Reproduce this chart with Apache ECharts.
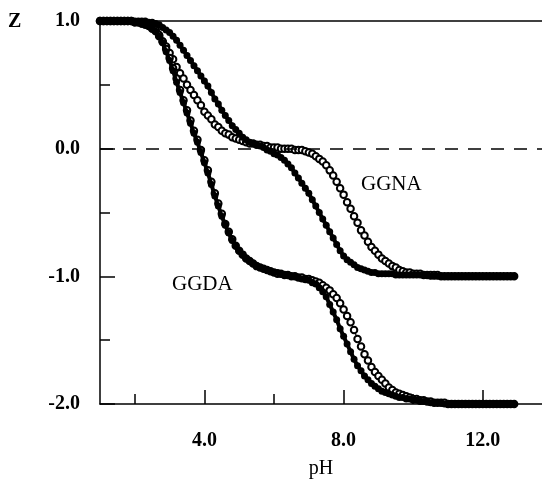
<!DOCTYPE html>
<html>
<head>
<meta charset="utf-8">
<script src="https://cdn.jsdelivr.net/npm/echarts@6/dist/echarts.min.js"></script>
<style>
html, body { margin: 0; padding: 0; background: #fff; }
#chart { width: 542px; height: 482px; }
</style>
</head>
<body>
<div id="chart"></div>
<script>
var ph = [
  1.0, 1.1, 1.2, 1.3, 1.4, 1.5, 1.6, 1.7, 1.8, 1.9,
  2.0, 2.1, 2.2, 2.3, 2.4, 2.5, 2.6, 2.7, 2.8, 2.9,
  3.0, 3.1, 3.2, 3.3, 3.4, 3.5, 3.6, 3.7, 3.8, 3.9,
  4.0, 4.1, 4.2, 4.3, 4.4, 4.5, 4.6, 4.7, 4.8, 4.9,
  5.0, 5.1, 5.2, 5.3, 5.4, 5.5, 5.6, 5.7, 5.8, 5.9,
  6.0, 6.1, 6.2, 6.3, 6.4, 6.5, 6.6, 6.7, 6.8, 6.9,
  7.0, 7.1, 7.2, 7.3, 7.4, 7.5, 7.6, 7.7, 7.8, 7.9,
  8.0, 8.1, 8.2, 8.3, 8.4, 8.5, 8.6, 8.7, 8.8, 8.9,
  9.0, 9.1, 9.2, 9.3, 9.4, 9.5, 9.6, 9.7, 9.8, 9.9,
  10.0, 10.1, 10.2, 10.3, 10.4, 10.5, 10.6, 10.7, 10.8, 10.9,
  11.0, 11.1, 11.2, 11.3, 11.4, 11.5, 11.6, 11.7, 11.8, 11.9,
  12.0, 12.1, 12.2, 12.3, 12.4, 12.5, 12.6, 12.7, 12.8, 12.9
];

// GGNA, filled circles
var ggnaFilled = [
  1, 1, 1, 1, 1, 1, 1, 1, 1, 1,
  1, 1, 1, 1, 0.99, 0.99, 0.98, 0.97, 0.95, 0.93,
  0.91, 0.88, 0.85, 0.81, 0.77, 0.73, 0.69, 0.65, 0.61, 0.57,
  0.53, 0.49, 0.44, 0.39, 0.35, 0.30, 0.26, 0.22, 0.18, 0.15,
  0.12, 0.09, 0.07, 0.05, 0.04, 0.03, 0.02, 0.01, -0.01, -0.02,
  -0.04, -0.05, -0.07, -0.09, -0.12, -0.15, -0.19, -0.23, -0.27, -0.31,
  -0.35, -0.40, -0.45, -0.50, -0.55, -0.60, -0.65, -0.70, -0.75, -0.80,
  -0.84, -0.87, -0.89, -0.91, -0.93, -0.94, -0.95, -0.96, -0.97, -0.97,
  -0.98, -0.98, -0.98, -0.98, -0.98, -0.99, -0.99, -0.99, -0.99, -0.99,
  -0.99, -0.99, -0.99, -0.99, -0.99, -1, -1, -1, -1, -1,
  -1, -1, -1, -1, -1, -1, -1, -1, -1, -1,
  -1, -1, -1, -1, -1, -1, -1, -1, -1, -1
];

// GGNA, open circles
var ggnaOpen = [
  1, 1, 1, 1, 1, 1, 1, 1, 1, 1,
  0.99, 0.99, 0.98, 0.97, 0.96, 0.94, 0.92, 0.88, 0.84, 0.80,
  0.75, 0.70, 0.64, 0.59, 0.55, 0.50, 0.46, 0.42, 0.38, 0.34,
  0.29, 0.26, 0.23, 0.19, 0.17, 0.14, 0.12, 0.11, 0.09, 0.08,
  0.07, 0.06, 0.05, 0.04, 0.04, 0.03, 0.03, 0.02, 0.02, 0.01,
  0.01, 0.01, 0, 0, 0, 0, -0.01, -0.01, -0.01, -0.02,
  -0.03, -0.04, -0.06, -0.08, -0.10, -0.13, -0.17, -0.21, -0.26, -0.31,
  -0.36, -0.42, -0.47, -0.53, -0.58, -0.64, -0.68, -0.73, -0.77, -0.80,
  -0.83, -0.86, -0.88, -0.90, -0.92, -0.93, -0.95, -0.96, -0.97, -0.97,
  -0.98, -0.98, -0.98, -0.99, -0.99, -0.99, -0.99, -0.99, -1, -1,
  -1, -1, -1, -1, -1, -1, -1, -1, -1, -1,
  -1, -1, -1, -1, -1, -1, -1, -1, -1, -1
];

// GGDA, filled circles
var ggdaFilled = [
  1, 1, 1, 1, 1, 1, 1, 1, 1, 1,
  0.99, 0.99, 0.98, 0.98, 0.96, 0.95, 0.92, 0.88, 0.83, 0.76,
  0.69, 0.61, 0.52, 0.44, 0.36, 0.28, 0.20, 0.12, 0.05, -0.03,
  -0.11, -0.19, -0.28, -0.37, -0.45, -0.53, -0.60, -0.66, -0.72, -0.76,
  -0.80, -0.83, -0.86, -0.88, -0.90, -0.92, -0.93, -0.94, -0.95, -0.96,
  -0.97, -0.97, -0.98, -0.99, -0.99, -1.00, -1.00, -1.01, -1.02, -1.02,
  -1.03, -1.05, -1.06, -1.09, -1.12, -1.16, -1.22, -1.28, -1.34, -1.41,
  -1.47, -1.53, -1.59, -1.65, -1.70, -1.74, -1.78, -1.81, -1.84, -1.86,
  -1.88, -1.90, -1.91, -1.92, -1.93, -1.94, -1.95, -1.95, -1.96, -1.96,
  -1.97, -1.97, -1.98, -1.98, -1.98, -1.99, -1.99, -1.99, -1.99, -2,
  -2, -2, -2, -2, -2, -2, -2, -2, -2, -2,
  -2, -2, -2, -2, -2, -2, -2, -2, -2, -2
];

// GGDA, open circles
var ggdaOpen = [
  1, 1, 1, 1, 1, 1, 1, 1, 1, 1,
  0.99, 0.99, 0.98, 0.98, 0.97, 0.95, 0.93, 0.89, 0.84, 0.78,
  0.71, 0.63, 0.55, 0.46, 0.38, 0.30, 0.22, 0.14, 0.07, -0.01,
  -0.09, -0.17, -0.26, -0.35, -0.43, -0.51, -0.59, -0.65, -0.71, -0.76,
  -0.80, -0.83, -0.86, -0.88, -0.90, -0.92, -0.93, -0.94, -0.95, -0.96,
  -0.97, -0.98, -0.98, -0.99, -0.99, -1.00, -1.00, -1.01, -1.01, -1.02,
  -1.02, -1.03, -1.04, -1.05, -1.07, -1.09, -1.11, -1.14, -1.17, -1.21,
  -1.26, -1.31, -1.36, -1.42, -1.49, -1.55, -1.61, -1.66, -1.71, -1.75,
  -1.78, -1.81, -1.84, -1.87, -1.89, -1.91, -1.92, -1.93, -1.94, -1.95,
  -1.96, -1.96, -1.97, -1.97, -1.98, -1.98, -1.99, -1.99, -1.99, -1.99,
  -2, -2, -2, -2, -2, -2, -2, -2, -2, -2,
  -2, -2, -2, -2, -2, -2, -2, -2, -2, -2
];

var majorTicksX = [4, 8, 12];
var minorTicksX = [2, 6, 10];

function pairs(ys) {
  return ph.map(function (x, i) { return [x, ys[i]]; });
}

var font = "'Liberation Serif', 'Times New Roman', serif";

function filledSeries(name, ys) {
  return {
    name: name,
    type: "line",
    data: pairs(ys),
    clip: false,
    showAllSymbol: true,
    symbol: "circle",
    symbolSize: 7,
    itemStyle: { color: "#000" },
    lineStyle: { color: "#000", width: 4 },
    z: 4
  };
}

function openSeries(name, ys) {
  return {
    name: name,
    type: "line",
    data: pairs(ys),
    clip: false,
    showAllSymbol: true,
    symbol: "emptyCircle",
    symbolSize: 6.5,
    itemStyle: { color: "#000", borderWidth: 1.6 },
    lineStyle: { color: "#000", width: 1.2 },
    z: 3
  };
}

var myChart = echarts.init(document.getElementById("chart"));
var option = {
  backgroundColor: "#fff",
  animation: false,
  grid: { left: 100, right: 0, top: 21, bottom: 78, outerBoundsMode: "none" },
  xAxis: [
    {
      type: "value",
      position: "bottom",
      min: 1,
      max: 13.7,
      name: "pH",
      nameLocation: "middle",
      nameGap: 55,
      nameTextStyle: { fontFamily: font, fontSize: 20, color: "#000" },
      axisLine: { onZero: false, lineStyle: { color: "#000", width: 1.5 } },
      axisTick: { inside: true, length: 14, customValues: majorTicksX, lineStyle: { color: "#000", width: 1.5 } },
      axisLabel: {
        customValues: majorTicksX,
        margin: 27,
        fontFamily: font,
        fontSize: 20,
        fontWeight: "bold",
        color: "#000",
        formatter: function (v) { return v.toFixed(1); }
      },
      splitLine: { show: false }
    },
    {
      type: "value",
      position: "bottom",
      min: 1,
      max: 13.7,
      axisLine: { show: false, onZero: false },
      axisTick: { inside: true, length: 10, customValues: minorTicksX, lineStyle: { color: "#000", width: 1.5 } },
      axisLabel: { show: false },
      splitLine: { show: false }
    }
  ],
  yAxis: {
    type: "value",
    min: -2,
    max: 1,
    interval: 1,
    axisLine: { show: true, onZero: false, lineStyle: { color: "#000", width: 1.5 } },
    axisTick: { show: true, inside: true, length: 15, lineStyle: { color: "#000", width: 1.5 } },
    minorTick: { show: true, splitNumber: 2, length: 10, lineStyle: { color: "#000", width: 1.5 } },
    axisLabel: {
      margin: 20,
      fontFamily: font,
      fontSize: 20,
      fontWeight: "bold",
      color: "#000",
      formatter: function (v) { return v.toFixed(1); }
    },
    splitLine: { show: false }
  },
  graphic: [
    { type: "text", left: 8, top: 12, style: { text: "Z", font: "bold 20px " + font, fill: "#000" } },
    { type: "text", left: 361, top: 174, style: { text: "GGNA", font: "21px " + font, fill: "#000" } },
    { type: "text", left: 172, top: 274, style: { text: "GGDA", font: "21px " + font, fill: "#000" } }
  ],
  series: [
    {
      type: "line",
      data: [],
      markLine: {
        silent: true,
        symbol: "none",
        label: { show: false },
        data: [
          { yAxis: 1, lineStyle: { color: "#000", width: 1.5, type: "solid" } },
          { yAxis: 0, lineStyle: { color: "#000", width: 1.5, type: [13, 10] } }
        ]
      }
    },
    filledSeries("GGNA filled", ggnaFilled),
    openSeries("GGNA open", ggnaOpen),
    filledSeries("GGDA filled", ggdaFilled),
    openSeries("GGDA open", ggdaOpen)
  ]
};
myChart.setOption(option);
</script>
</body>
</html>
